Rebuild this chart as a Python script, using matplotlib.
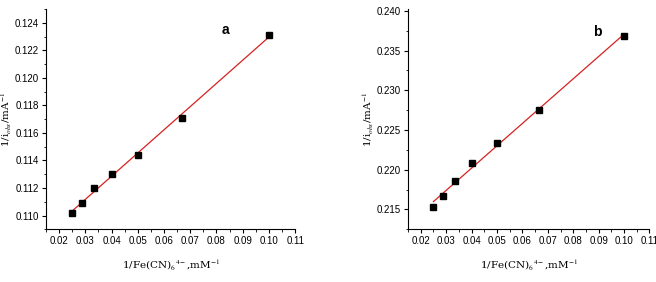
import numpy as np
import matplotlib
matplotlib.use('Agg')
import matplotlib.pyplot as plt
from matplotlib.ticker import MultipleLocator, FormatStrFormatter

# reciprocal concentrations, 1/Fe(CN)6 4- (mM^-1)
inv_conc = [0.025, 0.0286, 0.0333, 0.040, 0.050, 0.0667, 0.100]
# 1/i_obs (mA^-1) for panel a and b
inv_i_a = [0.1102, 0.1109, 0.1120, 0.1130, 0.1144, 0.1171, 0.1231]
inv_i_b = [0.2153, 0.2167, 0.2186, 0.2209, 0.2234, 0.2275, 0.2369]

plt.rcParams['font.family'] = ['Liberation Sans', 'DejaVu Sans']
plt.rcParams['mathtext.fontset'] = 'stix'

fig = plt.figure(figsize=(6.56, 2.82), dpi=100)
ax_a = fig.add_axes([0.070, 0.187, 0.380, 0.781])
ax_b = fig.add_axes([0.622, 0.187, 0.368, 0.780])

xlab = r'1/Fe(CN)$_6$$^{4-}$,mM$^{-1}$'
ylab = r'1/i$_{obs}$/mA$^{-1}$'


def draw_panel(ax, y, letter, ylim, ymajor, yminor, yfmt, letter_xy):
    x = np.array(inv_conc)
    y = np.array(y)
    slope, icpt = np.polyfit(x, y, 1)
    xf = np.array([x.min(), x.max()])
    ax.plot(xf, slope * xf + icpt, color='#d82020', lw=0.9, zorder=2)
    ax.plot(x, y, 's', color='black', ms=3.8, zorder=3)

    ax.set_xlim(0.015, 0.11)
    ax.set_ylim(*ylim)
    ax.xaxis.set_major_locator(MultipleLocator(0.01))
    ax.xaxis.set_minor_locator(MultipleLocator(0.005))
    ax.xaxis.set_major_formatter(FormatStrFormatter('%.2f'))
    ax.yaxis.set_major_locator(MultipleLocator(ymajor))
    ax.yaxis.set_minor_locator(MultipleLocator(yminor))
    ax.yaxis.set_major_formatter(FormatStrFormatter(yfmt))

    for side in ('top', 'right'):
        ax.spines[side].set_visible(False)
    for side in ('left', 'bottom'):
        ax.spines[side].set_linewidth(0.8)
    ax.tick_params(which='major', direction='out', length=3, width=0.8, labelsize=7, pad=2)
    ax.tick_params(which='minor', direction='out', length=1.8, width=0.6)

    ax.set_xlabel(xlab, fontsize=7.5, family='serif', labelpad=8)
    ax.set_ylabel(ylab, fontsize=7.5, family='serif', labelpad=0.5)
    ax.text(letter_xy[0], letter_xy[1], letter, fontsize=10, fontweight='bold',
            ha='center', va='center')


draw_panel(ax_a, inv_i_a, 'a', (0.109, 0.125), 0.002, 0.001, '%.3f', (0.0835, 0.1235))
draw_panel(ax_b, inv_i_b, 'b', (0.2125, 0.2402), 0.005, 0.0025, '%.3f', (0.0895, 0.2373))

fig.savefig('out.png', dpi=100)
